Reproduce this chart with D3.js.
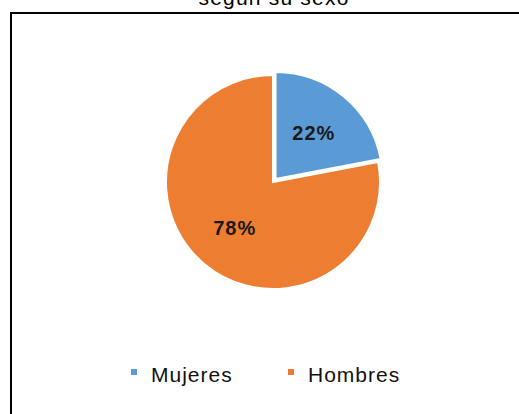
<!DOCTYPE html>
<html>
<head>
<meta charset="utf-8">
<script src="https://cdn.jsdelivr.net/npm/d3@7"></script>
<style>
  body { margin: 0; background: #fff; }
  svg { display: block; font-family: "Liberation Sans", Arial, sans-serif; }
</style>
</head>
<body>
<div id="app"></div>
<script>
var categories = ["Mujeres", "Hombres"],
    values = [22, 78],
    colors = ["#5b9bd5", "#ed7d31"],
    title = "según su sexo";

var width = 519,
    height = 414,
    cx = 273,
    cy = 182,
    radius = 107;

var svg = d3.select("#app").append("svg")
    .attr("width", width)
    .attr("height", height);

// title, mostly cut off by the top edge
svg.append("text")
    .attr("x", 274)
    .attr("y", 5)
    .attr("text-anchor", "middle")
    .style("font-size", "21px")
    .style("letter-spacing", "1.2px")
    .text(title);

// chart frame, runs off the right and bottom
svg.append("rect")
    .attr("x", 11)
    .attr("y", 13)
    .attr("width", 600)
    .attr("height", 500)
    .style("fill", "none")
    .style("stroke", "#000")
    .style("stroke-width", 2);

var color = d3.scaleOrdinal().domain(categories).range(colors);

var pie = d3.pie().sort(null).value(function(d) { return d.value; });

var data = categories.map(function(c, i) { return {name: c, value: values[i]}; });

var arc = d3.arc().innerRadius(0).outerRadius(radius),
    labelArc = d3.arc().innerRadius(60).outerRadius(60);

var g = svg.append("g")
    .attr("transform", "translate(" + cx + "," + cy + ")");

var slices = g.selectAll("g.slice")
    .data(pie(data))
    .enter().append("g")
    .attr("class", "slice")
    .attr("transform", function(d, i) {
        // first slice (Mujeres) pulled out a little
        if (i != 0) return null;
        var a = (d.startAngle + d.endAngle) / 2;
        return "translate(" + (4 * Math.sin(a)) + "," + (-4 * Math.cos(a)) + ")";
    });

slices.append("path")
    .attr("d", arc)
    .style("fill", function(d) { return color(d.data.name); })
    .style("stroke", "#fff")
    .style("stroke-width", 2);

slices.append("text")
    .attr("transform", function(d) { return "translate(" + labelArc.centroid(d) + ")"; })
    .attr("dy", "0.36em")
    .attr("text-anchor", "middle")
    .style("font-size", "20px")
    .style("font-weight", "bold")
    .style("letter-spacing", "1px")
    .style("fill", "#1a1a1a")
    .text(function(d) { return d.data.value + "%"; });

// legend
var legendX = [131, 288];

var legend = svg.selectAll("g.legend")
    .data(categories)
    .enter().append("g")
    .attr("class", "legend")
    .attr("transform", function(d, i) { return "translate(" + legendX[i] + ",369)"; });

legend.append("rect")
    .attr("width", 6)
    .attr("height", 6)
    .style("fill", function(d) { return color(d); });

legend.append("text")
    .attr("x", 20)
    .attr("y", 12.5)
    .style("font-size", "21px")
    .style("letter-spacing", "1px")
    .style("fill", "#111")
    .text(function(d) { return d; });
</script>
</body>
</html>
